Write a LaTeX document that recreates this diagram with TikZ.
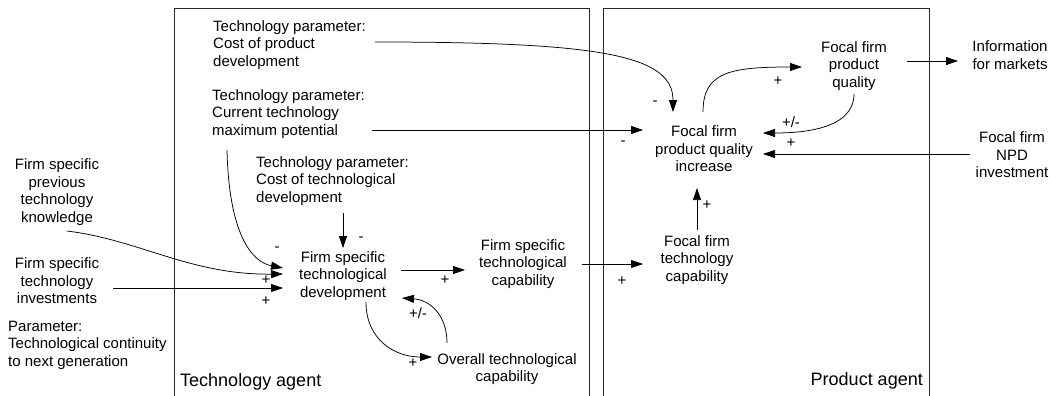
\documentclass[tikz,border=0pt]{standalone}
\usepackage{fontspec}
\setmainfont{Liberation Sans}
\usetikzlibrary{arrows.meta}
\begin{document}
\begin{tikzpicture}[x=1pt,y=-1pt,
  txt/.style={inner sep=0pt, align=center, font=\fontsize{15}{17.5}\selectfont},
  txtl/.style={inner sep=0pt, align=left, anchor=west, font=\fontsize{15}{17.5}\selectfont},
  sign/.style={inner sep=0pt, font=\fontsize{15}{17.5}\selectfont},
  agentlbl/.style={inner sep=0pt, font=\fontsize{18}{21}\selectfont},
  agentbox/.style={line width=0.8pt, draw=black!85},
  link/.style={-{Triangle[length=12pt,width=8pt]}, line width=0.75pt}]

\useasboundingbox[fill=white] (0,0) rectangle (1050,396);

% agent frames (open at the bottom)
\draw[agentbox] (174,400) -- (174,8) -- (589,8) -- (589,400);
\draw[agentbox] (603,400) -- (603,8) -- (929,8) -- (929,400);
\node[agentlbl, anchor=west] (tag) at (180,382) {Technology agent};
\node[agentlbl, anchor=east] (pag) at (923,381) {Product agent};

% variables
\node[txtl] (cpd) at (213,45) {Technology parameter:\\Cost of product\\development};
\node[txtl] (ctm) at (212,114) {Technology parameter:\\Current technology\\maximum potential};
\node[txtl] (ctd) at (256,181) {Technology parameter:\\Cost of technological\\development};
\node[txt] (fsp) at (57,192) {Firm specific\\previous\\technology\\knowledge};
\node[txt] (fsi) at (57,281) {Firm specific\\technology\\investments};
\node[txtl] (par) at (8,345) {Parameter:\\Technological continuity\\to next generation};
\node[txt] (fsd) at (343,276) {Firm specific\\technological\\development};
\node[txt] (fsc) at (523,264) {Firm specific\\technological\\capability};
\node[txt] (otc) at (507,369) {Overall technological\\capability};
\node[txt] (ffq) at (704,149) {Focal firm\\product quality\\increase};
\node[txt] (ftc) at (697,260) {Focal firm\\technology\\capability};
\node[txt] (fpq) at (854,66) {Focal firm\\product\\quality};
\node[txt] (inf) at (1010,55) {Information\\for markets};
\node[txt] (npd) at (1012,155) {Focal firm\\NPD\\investment};

% causal links
\draw[link] ([shift={(162,-3)}]cpd.west) .. controls (600,42) and (673,55) .. ([shift={(-31,-37)}]ffq.center);
\draw[link] ([shift={(160,16)}]ctm.west) -- ([shift={(-61,-19)}]ffq.center);
\draw[link] ([shift={(15,36)}]ctm.west) .. controls (229,235) and (252,262) .. ([shift={(-60,-8)}]fsd.center);
\draw[link] ([shift={(10,39)}]fsp.center) .. controls (140,240) and (190,275) .. ([shift={(-60,-2)}]fsd.center);
\draw[link] ([shift={(56,7)}]fsi.center) -- ([shift={(-60,12)}]fsd.center);
\draw[link] ([shift={(87,32)}]ctd.west) -- ([shift={(0,-28)}]fsd.center);
\draw[link] ([shift={(58,-6)}]fsd.center) -- ([shift={(-58,6)}]fsc.center);
\draw[link] ([shift={(59,0)}]fsc.center) -- ([shift={(-54,4)}]ftc.center);
\draw[link] ([shift={(0,-30)}]ftc.center) -- ([shift={(-7,39)}]ffq.center);
\draw[link] ([shift={(23,26)}]fsd.center) .. controls (366,340) and (395,357) .. ([shift={(-75,-12)}]otc.center);
\draw[link] ([shift={(-60,-26)}]otc.center) .. controls (447,315) and (430,300) .. ([shift={(59,22)}]fsd.center);
\draw[link] ([shift={(-1,-37)}]ffq.center) .. controls (703,72) and (730,67) .. ([shift={(-52,1)}]fpq.center);
\draw[link] ([shift={(0,28)}]fpq.center) .. controls (854,130) and (800,133) .. ([shift={(59,-16)}]ffq.center);
\draw[link] ([shift={(-42,-1)}]npd.center) -- ([shift={(59,5)}]ffq.center);
\draw[link] ([shift={(53,-5)}]fpq.center) -- ([shift={(-52,6)}]inf.center);

% polarity signs
\node[sign] (s1) at (655,103) {-};
\node[sign] (s2) at (623,143) {-};
\node[sign] (s3) at (277,249) {-};
\node[sign] (s4) at (266,280) {+};
\node[sign] (s5) at (266,301) {+};
\node[sign] (s6) at (361,239) {-};
\node[sign] (s7) at (445,280) {+};
\node[sign] (s8) at (622,281) {+};
\node[sign] (s9) at (707,205) {+};
\node[sign] (s10) at (413,363) {+};
\node[sign] (s11) at (418,313) {+/-};
\node[sign] (s12) at (778,81) {+};
\node[sign] (s13) at (791,122) {+/-};
\node[sign] (s14) at (791,143) {+};
\end{tikzpicture}
\end{document}
